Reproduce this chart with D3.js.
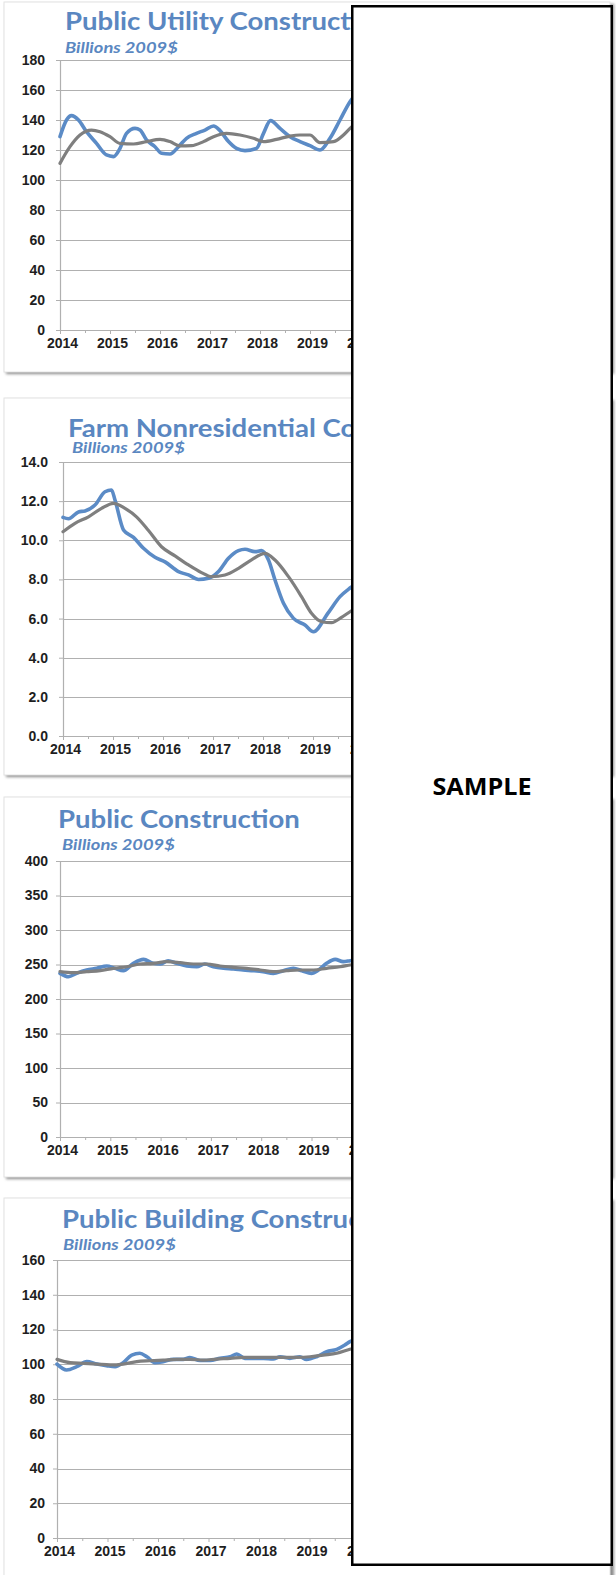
<!DOCTYPE html>
<html><head><meta charset="utf-8">
<script src="https://cdn.jsdelivr.net/npm/d3@7"></script>
<style>body{margin:0;background:#fff}svg{display:block}</style>
</head><body>
<svg id="c" width="616" height="1575"></svg>
<script>
// ---------------- DATA ----------------
const titles = ["Public Utility Construction", "Farm Nonresidential Construction", "Public Construction", "Public Building Construction"];
const subtitle = "Billions 2009$";
const yearTicks = [2014, 2015, 2016, 2017, 2018, 2019, 2020];
const halfYearTicks = [2014.5, 2015.5, 2016.5, 2017.5, 2018.5, 2019.5];
const utilTicks = [0, 20, 40, 60, 80, 100, 120, 140, 160, 180];
const farmTicks = [0, 2, 4, 6, 8, 10, 12, 14];
const publicTicks = [0, 50, 100, 150, 200, 250, 300, 350, 400];
const buildTicks = [0, 20, 40, 60, 80, 100, 120, 140, 160];

// Public Utility
const utilBlueX = [2014.00,2014.13,2014.23,2014.37,2014.53,2014.73,2014.93,2015.07,2015.20,2015.33,2015.50,2015.60,2015.73,2015.90,2016.03,2016.20,2016.37,2016.53,2016.73,2016.90,2017.07,2017.20,2017.37,2017.53,2017.70,2017.93,2018.07,2018.21,2018.40,2018.60,2018.80,2019.00,2019.20,2019.40,2019.60,2019.80,2020.00];
const utilBlue  = [128.9,140,142.9,140,132.2,124.4,116.7,115.6,121.1,131.1,134.4,133.3,126.7,122.2,117.8,117.3,122.2,127.8,131.1,133.3,136,132.9,125.6,121.1,119.6,121.1,131.1,139.6,134.4,128.9,125.6,122.9,120,127.8,140,152.2,160];
const utilGrayX = [2014.00,2014.20,2014.40,2014.63,2014.80,2015.00,2015.20,2015.47,2015.73,2016.00,2016.20,2016.40,2016.63,2016.87,2017.07,2017.33,2017.60,2017.87,2018.07,2018.33,2018.60,2018.80,2019.00,2019.20,2019.47,2019.67,2019.80,2020.00];
const utilGray  = [111.1,122.2,130,133.3,132.2,128.9,124.4,124,125.6,127.1,125.6,122.7,122.9,125.6,128.9,131.1,130,127.8,125.6,127.1,129.3,130,130,124.9,125.6,130,134.4,140];

// Farm Nonresidential
const farmBlueX = [2014.00,2014.11,2014.31,2014.44,2014.64,2014.84,2014.97,2015.04,2015.21,2015.41,2015.61,2015.84,2016.04,2016.31,2016.51,2016.71,2016.91,2017.11,2017.31,2017.51,2017.64,2017.84,2017.97,2018.11,2018.24,2018.41,2018.61,2018.84,2019.01,2019.30,2019.54,2019.74,2020.00];
const farmBlue  = [11.17,11.1,11.45,11.5,11.8,12.48,12.57,12.06,10.53,10.15,9.59,9.13,8.9,8.4,8.23,8.0,8.06,8.4,9.08,9.47,9.54,9.42,9.47,8.99,7.97,6.78,6.01,5.67,5.33,6.28,7.12,7.56,8.0];
const farmGrayX = [2014.00,2014.24,2014.51,2014.77,2015.01,2015.24,2015.47,2015.71,2015.97,2016.24,2016.51,2016.77,2016.97,2017.24,2017.51,2017.77,2018.04,2018.24,2018.51,2018.77,2018.97,2019.17,2019.37,2019.57,2019.74,2020.00];
const farmGray  = [10.44,10.87,11.2,11.63,11.89,11.63,11.2,10.5,9.67,9.2,8.74,8.35,8.14,8.23,8.57,9.0,9.33,8.99,8.14,7.12,6.27,5.84,5.79,6.06,6.35,6.8];

// Public Construction
const publicBlueX = [2014.00,2014.17,2014.33,2014.53,2014.73,2014.93,2015.09,2015.26,2015.46,2015.66,2015.85,2015.99,2016.15,2016.32,2016.52,2016.72,2016.88,2017.05,2017.25,2017.45,2017.64,2017.84,2018.04,2018.24,2018.44,2018.64,2018.81,2019.00,2019.14,2019.30,2019.47,2019.63,2019.77,2020.00];
const publicBlue  = [237.2,232.3,237.2,242,244.5,247.8,244.5,241,251.7,257.5,251.7,250.7,255.5,251.7,247.8,246.8,250.7,246.8,244.5,243.5,242,241,239.6,237.2,241,244.5,241,237.2,242,251.7,257.5,254.1,255.5,258];
const publicGrayX = [2014.00,2014.26,2014.53,2014.80,2015.06,2015.33,2015.59,2015.85,2016.12,2016.39,2016.65,2016.92,2017.18,2017.45,2017.71,2017.98,2018.24,2018.51,2018.77,2019.04,2019.30,2019.57,2019.77,2020.00];
const publicGray  = [239.6,238.2,239.6,241,244.5,246.8,250.7,251.7,254.1,252.7,250.7,250.7,247.8,245.9,244.5,242,239.6,241,242,242,244.5,246.8,249.3,252];

// Public Building
const buildBlueX = [2014.00,2014.19,2014.39,2014.59,2014.79,2014.98,2015.15,2015.31,2015.48,2015.64,2015.78,2015.94,2016.10,2016.30,2016.50,2016.63,2016.83,2017.03,2017.23,2017.43,2017.56,2017.72,2017.89,2018.09,2018.28,2018.42,2018.61,2018.81,2018.94,2019.14,2019.34,2019.54,2019.70,2019.80,2020.00];
const buildBlue  = [100.1,96.7,98.6,101.5,100.1,99.2,98.6,100.9,105.3,106.3,104.3,100.9,101.5,102.8,102.8,103.8,102.2,102.2,103.4,104.3,105.9,103.4,103.4,103.4,103,104.3,103.4,104.3,102.8,104.3,107.2,108.6,111.1,113,115];
const buildGrayX = [2014.00,2014.26,2014.52,2014.79,2015.05,2015.31,2015.58,2015.84,2016.10,2016.37,2016.63,2016.90,2017.16,2017.43,2017.69,2017.95,2018.22,2018.48,2018.75,2019.01,2019.27,2019.54,2019.80,2020.00];
const buildGray  = [102.8,100.9,100.5,100.1,99.6,100.1,101.5,102,102.4,102.8,102.8,102.4,103,103.4,104,104,104,104,104,104.3,105.3,106.3,108.6,110];

// ---------------- LAYOUT ----------------
const panels = [
  {title: titles[0], frame:[4,2,372], x0:60, pxYear:50, yTop:60, yBot:330, ymax:180, ticks:utilTicks, fmt:d3.format("d"),
   tx:65, ty:30, sx:65, sy:53, lblRight:45,
   blue:[utilBlueX, utilBlue], gray:[utilGrayX, utilGray]},
  {title: titles[1], frame:[4,398,775], x0:63, pxYear:50, yTop:462, yBot:736, ymax:14, ticks:farmTicks, fmt:d3.format(".1f"),
   tx:68, ty:437, sx:72, sy:453, lblRight:48,
   blue:[farmBlueX, farmBlue], gray:[farmGrayX, farmGray]},
  {title: titles[2], frame:[4,797,1177], x0:60, pxYear:50.3, yTop:861, yBot:1137, ymax:400, ticks:publicTicks, fmt:d3.format("d"),
   tx:58, ty:828, sx:62, sy:850, lblRight:48,
   blue:[publicBlueX, publicBlue], gray:[publicGrayX, publicGray]},
  {title: titles[3], frame:[4,1198,1580], x0:57, pxYear:50.5, yTop:1260, yBot:1538, ymax:160, ticks:buildTicks, fmt:d3.format("d"),
   tx:62, ty:1228, sx:63, sy:1250, lblRight:45,
   blue:[buildBlueX, buildBlue], gray:[buildGrayX, buildGray]}
];

const svg = d3.select("#c");
const defs = svg.append("defs");
defs.append("filter").attr("id","sh").attr("x","-5%").attr("y","-5%").attr("width","110%").attr("height","110%")
  .append("feGaussianBlur").attr("stdDeviation",1.4);

const BLUE = "#5B8BC6", GRAY = "#7F7F7F", TITLE = "#5A87C1", GRID = "#B0B0B0";
const LABEL_FONT = "'Liberation Sans', Arial, sans-serif";

function measure(txt, font, size, weight, style) {
  const t = svg.append("text").attr("font-family", font).attr("font-size", size)
    .attr("font-weight", weight).attr("font-style", style).text(txt);
  const w = t.node().getComputedTextLength(); t.remove(); return w;
}
const titleFont = "Lato, 'Open Sans', sans-serif";
const titleScale = 242 / measure("Public Construction", titleFont, 24, "bold", "normal");
const subScale = 113 / measure(subtitle, titleFont, 16, "bold", "italic");

panels.forEach(p => {
  const g = svg.append("g");
  const [fx, fy, fb] = p.frame;
  g.append("rect").attr("x", fx+2).attr("y", fy+2).attr("width", 612-fx).attr("height", fb-fy)
    .attr("fill", "#8a8a8a").attr("filter", "url(#sh)");
  g.append("rect").attr("x", fx).attr("y", fy).attr("width", 610-fx).attr("height", fb-fy)
    .attr("fill", "#fff").attr("stroke", "#e2e2e2").attr("stroke-width", 1);

  const x = d3.scaleLinear().domain([2014, 2020]).range([p.x0, p.x0 + 6*p.pxYear]);
  const y = d3.scaleLinear().domain([0, p.ymax]).range([p.yBot, p.yTop]);
  const xEnd = x(2021);

  g.append("g").selectAll("line").data(p.ticks.filter(d => d > 0)).join("line")
    .attr("x1", p.x0).attr("x2", xEnd).attr("y1", d => Math.round(y(d))+0.5).attr("y2", d => Math.round(y(d))+0.5)
    .attr("stroke", GRID).attr("stroke-width", 1);

  const ya = g.append("g").attr("transform", `translate(${p.x0},0)`)
    .call(d3.axisLeft(y).tickValues(p.ticks).tickFormat(p.fmt).tickSize(4).tickPadding(p.x0 - p.lblRight - 4));
  ya.select(".domain").attr("stroke", GRID).attr("stroke-width", 1.2);
  ya.selectAll(".tick line").attr("stroke", GRID);
  ya.selectAll("text").attr("font-family", LABEL_FONT).attr("font-size", 14)
    .attr("font-weight", "bold").attr("fill", "#1e1e1e");

  const xa = g.append("g").attr("transform", `translate(0,${p.yBot})`)
    .call(d3.axisBottom(x).tickValues(yearTicks).tickFormat(d3.format("d")).tickSize(4).tickPadding(4));
  xa.select(".domain").attr("stroke", GRID).attr("stroke-width", 1.2).attr("d", `M${p.x0},0.5H${xEnd}`);
  xa.selectAll(".tick line").attr("stroke", GRID);
  xa.selectAll("text").attr("font-family", LABEL_FONT).attr("font-size", 14)
    .attr("font-weight", "bold").attr("fill", "#1e1e1e").attr("dx", 2);
  g.append("g").attr("transform", `translate(0,${p.yBot})`)
    .call(d3.axisBottom(x).tickValues(halfYearTicks).tickFormat("").tickSize(3))
    .call(a => { a.select(".domain").remove(); a.selectAll("line").attr("stroke", GRID); });

  const line = d3.line().x(d => x(d[0])).y(d => y(d[1])).curve(d3.curveMonotoneX);
  const grayPts = d3.zip(p.gray[0], p.gray[1]);
  const bluePts = d3.zip(p.blue[0], p.blue[1]);
  g.append("path").attr("d", line(bluePts)).attr("fill", "none").attr("stroke", BLUE)
    .attr("stroke-width", 3.6).attr("stroke-linejoin", "round").attr("stroke-linecap", "round");
  g.append("path").attr("d", line(grayPts)).attr("fill", "none").attr("stroke", GRAY)
    .attr("stroke-width", 3.2).attr("stroke-linejoin", "round").attr("stroke-linecap", "round");

  g.append("text").attr("transform", `translate(${p.tx},${p.ty}) scale(${titleScale},1)`)
    .attr("font-family", titleFont).attr("font-size", 24).attr("font-weight", "bold")
    .attr("fill", TITLE).text(p.title);
  g.append("text").attr("transform", `translate(${p.sx},${p.sy}) scale(${subScale},1)`)
    .attr("font-family", titleFont).attr("font-size", 16).attr("font-weight", "bold").attr("font-style", "italic")
    .attr("fill", TITLE).text(subtitle);
});

svg.append("rect").attr("x", 352.25).attr("y", 6.25).attr("width", 259.5).attr("height", 1558.5)
  .attr("fill", "#fff").attr("stroke", "#000").attr("stroke-width", 2.5);
svg.append("text").attr("x", 482).attr("y", 795).attr("text-anchor", "middle")
  .attr("font-family", "'Open Sans', sans-serif").attr("font-weight", "bold").attr("font-size", 23)
  .attr("textLength", 99).attr("lengthAdjust", "spacingAndGlyphs").attr("fill", "#000").text("SAMPLE");
</script>
</body></html>
